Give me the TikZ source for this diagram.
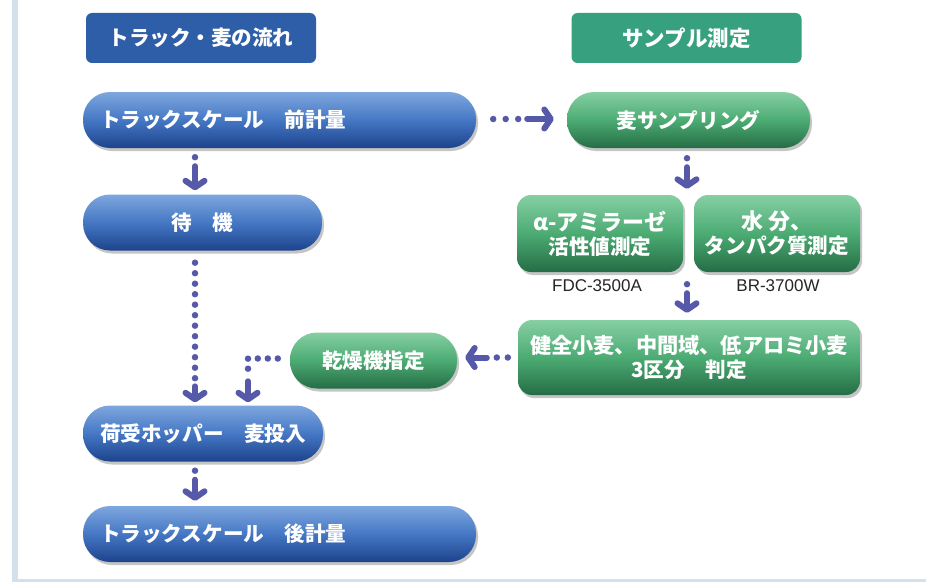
\documentclass[tikz,border=0pt]{standalone}
\usepackage{fontspec}
\newfontfamily\jp{Noto Sans CJK JP}
\newfontfamily\lab{Liberation Sans}
\usetikzlibrary{arrows.meta,shadows,calc}
\definecolor{arrowc}{HTML}{5658A8}
\definecolor{blueT}{HTML}{7EA7DE}
\definecolor{blueM}{HTML}{4577C4}
\definecolor{blueB}{HTML}{1D438C}
\definecolor{greenT}{HTML}{86CFA3}
\definecolor{greenM}{HTML}{4CAB73}
\definecolor{greenB}{HTML}{256D45}
\definecolor{headB}{HTML}{2F5EA8}
\definecolor{headG}{HTML}{37A07E}
\definecolor{borderc}{HTML}{D3E1EC}
\tikzset{
  jpfont/.style={font=\jp\bfseries\fontsize{20.6}{24}\selectfont},
  shade3d/.style={drop shadow={shadow xshift=2pt,shadow yshift=-3pt,opacity=0.45}},
  pillB/.style={rectangle, rounded corners=27pt, minimum height=56pt, inner sep=0pt,
    top color=blueT, bottom color=blueB, middle color=blueM, shade3d, text=white, jpfont},
  pillG/.style={rectangle, rounded corners=27pt, minimum height=56pt, inner sep=0pt,
    top color=greenT, bottom color=greenB, middle color=greenM, shade3d, text=white, jpfont},
  boxG/.style={rectangle, rounded corners=14pt, inner sep=0pt, align=center,
    top color=greenT, bottom color=greenB, middle color=greenM, shade3d, text=white, jpfont},
  headbox/.style={rectangle, rounded corners=6pt, minimum width=230pt, minimum height=50pt,
    inner sep=0pt, text=white, jpfont},
  modellabel/.style={font=\lab\fontsize{17}{20}\selectfont, text=black!85, inner sep=0pt},
  dotsy/.style={draw=arrowc, line width=6.5pt, line cap=round, dash pattern=on 0pt off #1},
  dotsy/.default=10.5pt,
  arrowline/.style={draw=arrowc, line width=6pt, line cap=round,
    -{Straight Barb[length=6.5pt,width=19pt,line width=6pt,round]}},
}
\begin{document}
\begin{tikzpicture}[x=1pt,y=-1pt]
\useasboundingbox (0,0) rectangle (926,586);
\fill[white] (0,0) rectangle (926,586);
\fill[borderc] (12,0) rectangle (18,581);
\fill[borderc] (12,579) rectangle (926,582);

% headers
\node[headbox, fill=headB] (h1) at (201,38) {トラック・麦の流れ};
\node[headbox, fill=headG] (h2) at (686.5,38) {\fontsize{21.5}{24}\selectfont サンプル測定};

% left column
\node[pillB, text width=359pt, inner xsep=17pt, align=left] (pre) at (279.5,120) {トラックスケール　前計量};
\node[pillB, minimum width=239pt] (wait) at (202.5,222.5) {待　機};
\node[pillB, minimum width=240pt] (hopper) at (203,433.5) {荷受ホッパー　麦投入};
\node[pillB, text width=359pt, inner xsep=17pt, align=left] (post) at (279.5,534) {トラックスケール　後計量};
\node[pillG, minimum width=167pt] (dry) at (373.5,360.5) {乾燥機指定};

% right column
\node[pillG, minimum width=243pt] (sample) at (688.5,120) {麦サンプリング};
\node[boxG, minimum width=166pt, minimum height=77pt] (alpha) at (600,233.5)
  {\fontsize{22}{29}\selectfont α-アミラーゼ\\活性値測定};
\node[boxG, minimum width=166pt, minimum height=77pt] (water) at (777,233.5)
  {\fontsize{22}{29}\selectfont 水 分、\\タンパク質測定};
\node[boxG, minimum width=342pt, minimum height=75pt] (judge) at (689,357.5)
  {\fontsize{21.2}{24}\selectfont 健全小麦、中間域、低アロミ小麦\\3区分　判定};

\node[modellabel] (fdc) at ($(alpha.south)+(-3,13)$) {FDC-3500A};
\node[modellabel] (br) at ($(water.south)+(1,13)$) {BR-3700W};

% columns for connectors
\coordinate (colL) at (195,0);
\coordinate (colR) at (248,0);
\coordinate (colM) at (687,0);
\coordinate (mid) at ($(alpha.south)!0.5!(water.south)$);

% pre -> wait
\draw[dotsy] ($(pre.south -| colL)+(0,9)$) -- ++(0,1);
\draw[arrowline] ($(pre.south -| colL)+(0,18)$) -- ($(wait.north -| colL)+(0,-4)$);
% wait -> hopper
\draw[dotsy] ($(wait.south -| colL)+(0,12)$) -- ($(hopper.north -| colL)+(0,-27)$);
\draw[arrowline] ($(hopper.north -| colL)+(0,-19)$) -- ($(hopper.north -| colL)+(0,-3)$);
% dry -> hopper
\draw[dotsy=10pt] ($(dry.west)+(-12,-2)$) -- ($(dry.west -| colR)+(0,-2)$) -- ++(0,10.5);
\draw[arrowline] ($(hopper.north -| colR)+(0,-24)$) -- ($(hopper.north -| colR)+(0,-3)$);
% hopper -> post
\draw[dotsy] ($(hopper.south -| colL)+(0,9)$) -- ++(0,1);
\draw[arrowline] ($(hopper.south -| colL)+(0,18)$) -- ($(post.north -| colL)+(0,-5)$);
% pre -> sample
\draw[dotsy=12.5pt] ($(pre.east)+(17,-1)$) -- ($(pre.east)+(43,-1)$);
\draw[arrowline] ($(pre.east)+(51,-1)$) -- ($(sample.west)+(-13,-1)$);
% sample -> measure
\draw[dotsy] ($(sample.south -| colM)+(0,10)$) -- ++(0,1);
\draw[arrowline] ($(sample.south -| colM)+(0,19)$) -- ($(alpha.north -| colM)+(0,-6)$);
% measure -> judge
\draw[dotsy] ($(mid -| colM)+(0,12)$) -- ++(0,1);
\draw[arrowline] ($(mid -| colM)+(0,21)$) -- ($(judge.north -| colM)+(0,-7)$);
% judge -> dry
\draw[dotsy=11pt] ($(judge.west)+(-10,0)$) -- ($(judge.west)+(-22,0)$);
\draw[arrowline] ($(judge.west)+(-31,0)$) -- ($(dry.east |- judge.west)+(8,0)$);
\end{tikzpicture}
\end{document}
